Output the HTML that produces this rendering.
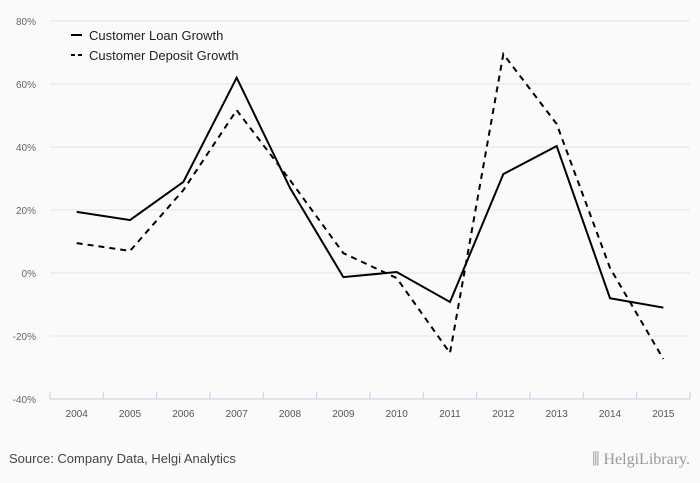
<!DOCTYPE html>
<html><head><meta charset="utf-8"><style>
body{margin:0;background:#fafafa;font-family:"Liberation Sans",sans-serif;}
svg{display:block}
</style></head><body>
<svg width="700" height="483" id="c">
<rect width="700" height="483" fill="#fafafa"/>
<g id="grid"></g><g id="axis"></g><g id="series"></g>
<g>
<line x1="71" y1="35" x2="82" y2="35" stroke="#000" stroke-width="2"/>
<text x="89" y="40" font-size="13" fill="#222">Customer Loan Growth</text>
<line x1="71" y1="55" x2="82" y2="55" stroke="#000" stroke-width="2" stroke-dasharray="4,3"/>
<text x="89" y="60" font-size="13" fill="#222">Customer Deposit Growth</text>
</g>
<text x="9" y="463" font-size="13" fill="#444">Source: Company Data, Helgi Analytics</text>
<text x="690" y="464" font-size="16" fill="#999" text-anchor="end" font-family="Liberation Serif,serif">⫼ HelgiLibrary.</text>
</svg>
<script>
const categories=["2004","2005","2006","2007","2008","2009","2010","2011","2012","2013","2014","2015"];
const loanGrowth=[19.4,16.8,28.9,62,27,-1.3,0.3,-9.2,31.4,40.3,-8,-11];
const depositGrowth=[9.5,7,26.3,51.7,29.5,6.3,-1.6,-25.4,69.5,47.3,1.6,-27.3];
const yTicks=[80,60,40,20,0,-20,-40];
const NS="http://www.w3.org/2000/svg";
const x0=50,x1=690,yTop=21,yBot=399,yMax=80,yMin=-40;
const step=(x1-x0)/categories.length;
const xs=i=>x0+step*(i+0.5);
const ys=v=>yTop+(yMax-v)/(yMax-yMin)*(yBot-yTop);
function mk(t,a,p){const e=document.createElementNS(NS,t);for(const k in a)e.setAttribute(k,a[k]);p.appendChild(e);return e;}
const grid=document.getElementById('grid'),axis=document.getElementById('axis'),ser=document.getElementById('series');
yTicks.forEach(v=>{
 if(v!==yMin){const l=mk('line',{x1:x0,x2:x1,y1:ys(v),y2:ys(v),stroke:'#e4e4e4','stroke-width':1},grid);
 
 }
 const t=mk('text',{x:36,y:ys(v)+4,'font-size':10,fill:'#666','text-anchor':'end'},grid);
 t.textContent=v+'%';
 
 
});
const ax=mk('line',{x1:x0,x2:x1,y1:yBot,y2:yBot,stroke:'#c5d0e0','stroke-width':1},axis);


for(let i=0;i<=categories.length;i++){
 const tk=mk('line',{x1:x0+step*i,x2:x0+step*i,y1:yBot-7,y2:yBot,stroke:'#c5d0e0'},axis);
 
 
}
categories.forEach((c,i)=>{
 const t=mk('text',{x:xs(i),y:yBot+18,'font-size':10,fill:'#555','text-anchor':'middle'},axis);
 t.textContent=c;
 
 
});
function line(vals,dash,name){
 const p=mk('polyline',{points:vals.map((v,i)=>xs(i)+','+ys(v)).join(' '),fill:'none',stroke:'#000','stroke-width':2,'stroke-dasharray':dash},ser);
 
 
}
line(loanGrowth,'none','loan-growth-line');
line(depositGrowth,'6,5','deposit-growth-line');
</script>
</body></html>
